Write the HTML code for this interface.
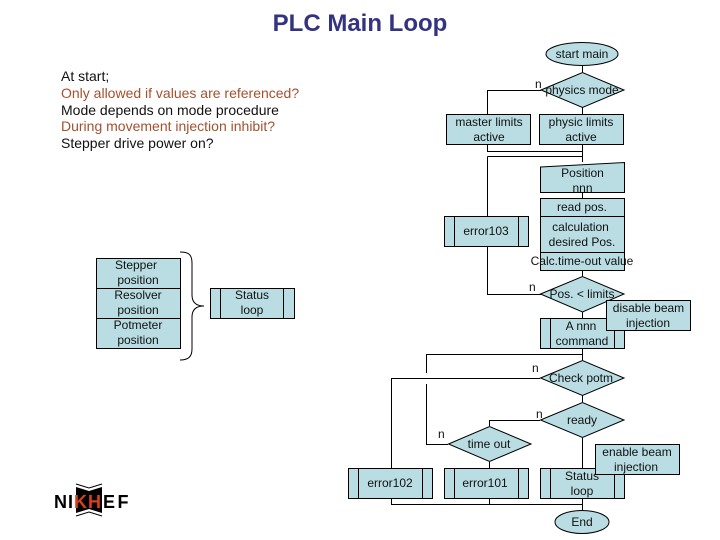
<!DOCTYPE html>
<html>
<head>
<meta charset="utf-8">
<style>
html,body{margin:0;padding:0;background:#fff}
svg{display:block}
text{font-family:"Liberation Sans",sans-serif;font-size:12px;fill:#111;text-anchor:middle}
.s{fill:#b9dde3;stroke:#000;stroke-width:1}
.l{fill:none;stroke:#000;stroke-width:1}
.n{text-anchor:start}
.t{font-size:14px;text-anchor:start}
.r{fill:#a5502f}
</style>
</head>
<body>
<svg width="720" height="540" viewBox="0 0 720 540" xmlns="http://www.w3.org/2000/svg">
<text x="360" y="31" style="font-size:24px;font-weight:bold;fill:#333380">PLC Main Loop</text>

<text class="t" x="61" y="81">At start;</text>
<text class="t r" x="61" y="98">Only allowed if values are referenced?</text>
<text class="t" x="61" y="115">Mode depends on mode procedure</text>
<text class="t r" x="61" y="131">During movement injection inhibit?</text>
<text class="t" x="61" y="148">Stepper drive power on?</text>

<!-- connectors -->
<path class="l" d="M582.500 66V72M582.500 107V114M541 90.500H487.500V114M582.500 145V162M487.500 145V151.500H582.500M487.500 156.500H582.500M487.500 156.500V216M582.500 192V198M582.500 270V276M487.500 246V294.500H541M582.500 312V318M582.500 348V360M582.500 354.500H426.500V373M426.500 384V444.500H448M540 378.500H391.500V468M582.500 395V402M540 420.500H489.500V426M489.500 462V468M582.500 438V468M391.500 498V504.500H582.500M489.500 498V504.500M582.500 498V510"/>

<!-- top flow -->
<ellipse class="s" cx="582" cy="54" rx="36" ry="11.500"/>
<polygon class="s" points="541,90 582.500,72.500 624,90 582.500,107.500"/>
<rect class="s" x="446.500" y="114.500" width="84" height="30"/>
<rect class="s" x="539.500" y="114.500" width="84" height="30"/>
<polygon class="s" points="540.500,167 624.500,162.500 624.500,192.500 540.500,192.500"/>
<rect class="s" x="540.500" y="198.500" width="84" height="18"/>
<rect class="s" x="540.500" y="216.500" width="84" height="36"/>
<rect class="s" x="540.500" y="252.500" width="84" height="18"/>
<rect class="s" x="444.500" y="216.500" width="84" height="30"/>
<path class="l" d="M454.500 216.500V246.500M518.500 216.500V246.500"/>
<polygon class="s" points="540.500,294 582.500,276.500 624,294 582.500,312"/>
<rect class="s" x="540.500" y="318.500" width="84" height="30"/>
<path class="l" d="M550.500 318.500V348.500M614.500 318.500V348.500"/>

<text x="582" y="58">start main</text>
<text class="n" x="535" y="88">n</text>
<text x="582" y="94">physics mode</text>
<text x="489" y="126">master limits</text>
<text x="489" y="141">active</text>
<text x="581" y="126">physic limits</text>
<text x="581" y="141">active</text>
<text x="582.500" y="177">Position</text>
<text x="582.500" y="192">nnn</text>
<text x="582" y="211">read pos.</text>
<text x="580.500" y="231">calculation</text>
<text x="582" y="246">desired Pos.</text>
<text x="582" y="265">Calc.time-out value</text>
<text x="486" y="235">error103</text>
<text class="n" x="529" y="291">n</text>
<text x="582" y="298">Pos. &lt; limits</text>
<text x="581" y="330">A nnn</text>
<text x="582" y="345">command</text>

<rect class="s" x="606.500" y="300.500" width="84" height="30"/>
<text x="648.500" y="312">disable beam</text>
<text x="648" y="327">injection</text>

<!-- lower flow -->
<polygon class="s" points="540.500,378 582.500,360.500 624,378 582.500,395.500"/>
<polygon class="s" points="540.500,420 582.500,402.500 624,420 582.500,437.500"/>
<polygon class="s" points="448.500,444 489.500,426.500 531,444 489.500,461.500"/>
<rect class="s" x="348.500" y="468.500" width="84" height="30"/>
<path class="l" d="M358.500 468.500V498.500M422.500 468.500V498.500"/>
<rect class="s" x="444.500" y="468.500" width="84" height="30"/>
<path class="l" d="M454.500 468.500V498.500M518.500 468.500V498.500"/>
<rect class="s" x="540.500" y="468.500" width="84" height="30"/>
<path class="l" d="M550.500 468.500V498.500M614.500 468.500V498.500"/>
<ellipse class="s" cx="582" cy="522" rx="27" ry="11.500"/>

<text class="n" x="532" y="372">n</text>
<text x="581" y="382">Check potm</text>
<text class="n" x="536" y="418">n</text>
<text x="582" y="424">ready</text>
<text class="n" x="438" y="438">n</text>
<text x="489" y="448">time out</text>
<text x="390" y="487">error102</text>
<text x="485" y="487">error101</text>
<text x="582" y="480">Status</text>
<text x="582" y="495">loop</text>
<text x="582" y="526">End</text>

<rect class="s" x="595.500" y="444.500" width="84" height="30"/>
<text x="637" y="456">enable beam</text>
<text x="636" y="471">injection</text>

<!-- left group -->
<rect class="s" x="96.500" y="258.500" width="84" height="30"/>
<rect class="s" x="96.500" y="288.500" width="84" height="30"/>
<rect class="s" x="96.500" y="318.500" width="84" height="30"/>
<text x="136" y="269">Stepper</text>
<text x="138" y="284">position</text>
<text x="138" y="299">Resolver</text>
<text x="138" y="314">position</text>
<text x="138" y="329">Potmeter</text>
<text x="138" y="344">position</text>
<path class="l" d="M180 252C188 252 192 254 192 263V295C192 302 196 306 204 306C196 306 192 310 192 317V349C192 357 188 360 180 360"/>
<rect class="s" x="210.500" y="288.500" width="84" height="30"/>
<path class="l" d="M220.500 288.500V318.500M283.500 288.500V318.500"/>
<text x="252" y="299">Status</text>
<text x="252" y="314">loop</text>

<!-- logo -->
<polygon points="76,487 89,491 102,487 102,513 89,509 76,513" fill="#000"/>
<path d="M76 484L89 488L102 484M76 516L89 512L102 516" fill="none" stroke="#000" stroke-width="1"/>
<text class="n" x="54" y="508" style="font-size:18px;font-weight:bold;fill:#000">N</text>
<text class="n" x="68" y="508" style="font-size:18px;font-weight:bold;fill:#000">I</text>
<text class="n" x="74" y="508" style="font-size:18px;font-weight:bold;fill:#d8401c">K</text>
<text class="n" x="88" y="508" style="font-size:18px;font-weight:bold;fill:#d8401c">H</text>
<text class="n" x="103" y="508" style="font-size:18px;font-weight:bold;fill:#000">E</text>
<text class="n" x="117.500" y="508" style="font-size:18px;font-weight:bold;fill:#000">F</text>
</svg>
</body>
</html>
